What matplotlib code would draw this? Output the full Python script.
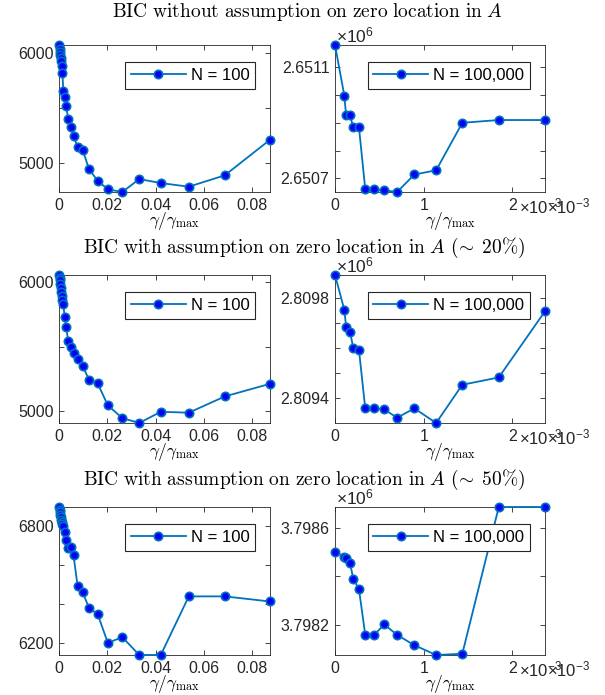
import matplotlib
matplotlib.use("Agg")
import matplotlib.pyplot as plt
from matplotlib.ticker import FixedLocator, FixedFormatter

plt.rcParams['font.family'] = ['Liberation Sans', 'DejaVu Sans']
plt.rcParams['mathtext.fontset'] = 'cm'
plt.rcParams['mathtext.rm'] = 'Liberation Sans'
plt.rcParams['mathtext.it'] = 'Liberation Sans:italic'

# gamma / gamma_max grids
x_n100 = [0, 0.0003, 0.0004, 0.0005, 0.0007, 0.0009, 0.0011, 0.0014, 0.0018,
          0.0023, 0.0030, 0.0038, 0.0048, 0.0060, 0.0077, 0.0098, 0.0124,
          0.0160, 0.0202, 0.0262, 0.0332, 0.0421, 0.0537, 0.0686, 0.0873]
x_n100k = [0, 0.105e-3, 0.125e-3, 0.17e-3, 0.205e-3, 0.27e-3, 0.341e-3, 0.44e-3,
           0.555e-3, 0.7e-3, 0.895e-3, 1.14e-3, 1.435e-3, 1.846e-3, 2.367e-3]

# BIC, N = 100
bic100_none = [6069, 6035, 6005, 5980, 5950, 5920, 5880, 5815, 5654, 5600, 5515,
               5398, 5328, 5247, 5142, 5120, 4946, 4840, 4762, 4738, 4855, 4819,
               4786, 4889, 5211]
bic100_20 = [6058, 6034, 6016, 5990, 5958, 5925, 5893, 5862, 5832, 5736, 5651,
             5543, 5496, 5452, 5406, 5354, 5245, 5217, 5047, 4948, 4910, 4997,
             4990, 5116, 5214]
bic100_50 = [6895, 6880, 6868, 6855, 6842, 6830, 6818, 6808, 6800, 6765, 6728,
             6688, 6689, 6648, 6493, 6459, 6381, 6348, 6202, 6231, 6140, 6140,
             6439, 6439, 6413]

# BIC, N = 100,000
bic100k_none = [2651180, 2650998, 2650927, 2650927, 2650884, 2650884, 2650661,
                2650661, 2650657, 2650651, 2650714, 2650729, 2650900, 2650910,
                2650910]
bic100k_20 = [2809890, 2809752, 2809685, 2809664, 2809601, 2809592, 2809360,
              2809360, 2809356, 2809323, 2809360, 2809302, 2809454, 2809483,
              2809746]
bic100k_50 = [3798502, 3798479, 3798475, 3798455, 3798391, 3798348, 3798161,
              3798161, 3798204, 3798161, 3798119, 3798079, 3798084, 3798684,
              3798684]

titles = [r"$\mathrm{BIC\ without\ assumption\ on\ zero\ location\ in\ }A$",
          r"$\mathrm{BIC\ with\ assumption\ on\ zero\ location\ in\ }A\ (\!\sim\;20\%)$",
          r"$\mathrm{BIC\ with\ assumption\ on\ zero\ location\ in\ }A\ (\!\sim\;50\%)$"]

yticks_left = [[5000, 5500, 6000], [5000, 5500, 6000], [6200, 6400, 6600, 6800]]
ylabels_left = [["5000", "", "6000"], ["5000", "", "6000"], ["6200", "", "", "6800"]]
yticks_right = [[2650700, 2650800, 2650900, 2651000, 2651100],
                [2809400, 2809500, 2809600, 2809700, 2809800],
                [3798200, 3798400, 3798600]]
ylabels_right = [["2.6507", "", "", "", "2.6511"],
                 ["2.8094", "", "", "", "2.8098"],
                 ["3.7982", "", "3.7986"]]

left_data = [bic100_none, bic100_20, bic100_50]
right_data = [bic100k_none, bic100k_20, bic100k_50]

line_c = (0, 0.447, 0.741)
dark = '#262626'
W, H = 605, 695

fig = plt.figure(figsize=(W / 100, H / 100), dpi=100)

rows = [(45, 192), (275, 423), (507, 655)]
title_y = [12, 248, 480]
title_x = [308, 304, 304]


def style(ax):
    for s in ax.spines.values():
        s.set_color(dark)
        s.set_linewidth(0.6)
    ax.tick_params(direction='in', top=True, right=True, length=3.5,
                   width=0.6, colors=dark, labelsize=11.5, pad=4)


def draw(ax, x, y, lab):
    ax.plot(x, y, '-o', color=line_c, lw=1.3, ms=6, mfc='#0000ff', mec=line_c,
            mew=1.2, clip_on=False, zorder=3, label=lab)
    ax.set_xlim(0, max(x))
    ax.set_ylim(min(y), max(y))
    leg = ax.legend(loc='upper right', bbox_to_anchor=(0.93, 0.885), fontsize=12,
                    fancybox=False, framealpha=1, edgecolor='#262626',
                    handlelength=3.3, handletextpad=0.3, borderpad=0.35,
                    borderaxespad=0)
    leg.get_frame().set_linewidth(0.8)
    ax.set_xlabel(r"$\gamma/\gamma_{\max}$", fontsize=12.5, labelpad=-2, x=0.55)


for i, (top, bot) in enumerate(rows):
    b = 1 - bot / H
    h = (bot - top) / H
    axl = fig.add_axes([59 / W, b, 211 / W, h])
    axr = fig.add_axes([335 / W, b, 210 / W, h])
    for ax in (axl, axr):
        style(ax)

    draw(axl, x_n100, left_data[i], "N = 100")
    axl.xaxis.set_major_locator(FixedLocator([0, 0.02, 0.04, 0.06, 0.08]))
    axl.xaxis.set_major_formatter(FixedFormatter(["0", "0.02", "0.04", "0.06", "0.08"]))
    axl.yaxis.set_major_locator(FixedLocator(yticks_left[i]))
    axl.yaxis.set_major_formatter(FixedFormatter(ylabels_left[i]))

    draw(axr, x_n100k, right_data[i], "N = 100,000")
    axr.xaxis.set_major_locator(FixedLocator([0, 1e-3, 2e-3]))
    axr.xaxis.set_major_formatter(FixedFormatter(["0", "1", "2"]))
    axr.yaxis.set_major_locator(FixedLocator(yticks_right[i]))
    axr.yaxis.set_major_formatter(FixedFormatter(ylabels_right[i]))

    axr.text(0.005, 1.0, r"$\times10^{6}$", transform=axr.transAxes, ha='left',
             va='bottom', fontsize=12.5, color=dark, math_fontfamily='custom')
    # duplicated exponent labels of the x axis, as in the original figure
    ty = 1 - (bot + 21) / H
    fig.text(519 / W, ty, r"$\times10^{-3}$", ha='left', va='baseline',
             fontsize=12, color=dark, math_fontfamily='custom')
    fig.text(547 / W, ty, r"$\times10^{-3}$", ha='left', va='baseline',
             fontsize=12, color=dark, math_fontfamily='custom')

    fig.text(title_x[i] / W, 1 - title_y[i] / H, titles[i], ha='center',
             va='center', fontsize=14)

fig.savefig("out.png", dpi=100)
